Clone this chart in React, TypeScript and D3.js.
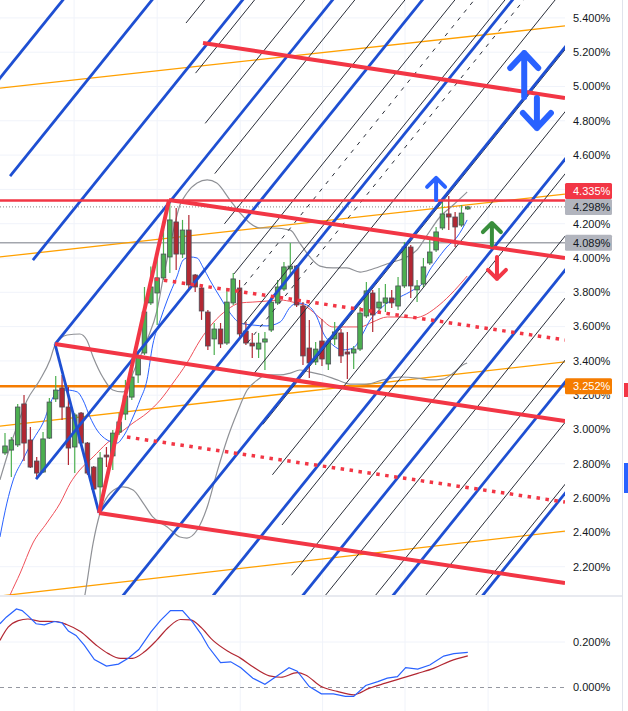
import * as d3 from "d3";

// candles (bar index 0..73), values in %
const opens = [2.863,2.880,2.910,3.149,2.939,2.816,2.752,2.950,3.178,3.242,3.131,2.898,3.096,2.921,2.781,2.665,2.851,2.846,2.985,3.090,3.189,3.318,3.446,3.738,3.796,3.884,4.006,4.210,4.023,4.163,3.901,3.825,3.685,3.528,3.586,3.504,3.738,3.825,3.574,3.504,3.469,3.510,3.580,3.738,3.819,3.936,3.953,3.720,3.475,3.394,3.516,3.382,3.528,3.563,3.452,3.446,3.469,3.662,3.796,3.709,3.738,3.767,3.720,3.837,4.064,3.814,3.848,3.971,4.047,4.175,4.257,4.239,4.192,4.286];
const closes = [2.904,2.939,3.131,2.921,2.781,2.746,2.945,3.160,3.230,3.131,2.892,3.085,2.921,2.746,2.653,2.834,2.840,2.979,3.044,3.195,3.306,3.423,3.685,3.831,3.884,4.023,4.222,4.023,4.163,3.843,3.831,3.691,3.487,3.586,3.499,3.743,3.878,3.557,3.504,3.487,3.504,3.528,3.743,3.831,3.948,3.953,3.726,3.429,3.388,3.469,3.411,3.516,3.569,3.429,3.440,3.469,3.679,3.808,3.668,3.743,3.767,3.738,3.837,4.064,3.837,3.837,3.948,4.035,4.152,4.257,4.239,4.181,4.262,4.298];
const highs = [2.979,2.956,3.149,3.201,3.015,2.840,2.985,3.184,3.312,3.318,3.248,3.096,3.102,2.927,2.787,2.869,2.898,2.997,3.096,3.289,3.347,3.458,3.831,3.950,4.017,4.163,4.338,4.292,4.222,4.251,3.907,3.831,3.697,3.621,3.621,3.825,3.913,3.872,3.627,3.563,3.563,3.569,3.773,3.872,3.977,4.087,3.959,3.743,3.639,3.510,3.644,3.534,3.627,3.586,3.569,3.487,3.714,3.860,3.814,3.825,3.848,3.814,3.889,4.093,4.076,3.872,4.000,4.105,4.181,4.338,4.362,4.268,4.309,4.303];
const lows = [2.851,2.723,2.898,2.816,2.775,2.711,2.746,2.945,3.160,3.055,2.793,2.746,2.904,2.735,2.647,2.560,2.781,2.764,2.968,3.055,3.172,3.271,3.434,3.726,3.609,3.872,3.913,3.930,4.000,3.814,3.802,3.639,3.464,3.434,3.475,3.493,3.726,3.539,3.493,3.417,3.417,3.347,3.569,3.726,3.808,3.889,3.714,3.376,3.300,3.376,3.370,3.347,3.493,3.388,3.295,3.353,3.458,3.650,3.569,3.685,3.685,3.709,3.697,3.825,3.767,3.743,3.831,3.959,4.035,4.163,4.163,4.064,4.181,4.280];

// indicators, [bar, value]
const bbUpper = [[-0.8,2.706],[1.3,2.956],[3.5,3.172],[5.5,3.289],[7.1,3.405],[7.9,3.493],[9.8,3.551],[11.8,3.557],[12.9,3.522],[13.9,3.423],[15.5,3.300],[17.0,3.230],[18.5,3.219],[19.4,3.248],[20.2,3.329],[21.3,3.423],[22.4,3.522],[24.0,3.697],[24.9,3.872],[26.0,4.064],[27.6,4.309],[28.7,4.379],[30.3,4.437],[31.9,4.455],[33.4,4.437],[35.5,4.338],[37.1,4.262],[38.6,4.204],[40.2,4.175],[42.3,4.175],[45.0,4.163],[46.5,4.087],[48.1,4.006],[49.7,3.953],[51.7,3.942],[53.9,3.942],[56.0,3.918],[58.0,3.936],[60.7,3.971],[63.4,4.006],[65.0,4.047],[66.6,4.134],[68.6,4.239],[70.7,4.309],[72.9,4.385]];
const bbLower = [[11.5,1.860],[12.6,2.035],[13.9,2.338],[15.0,2.513],[16.6,2.630],[18.6,2.665],[20.2,2.647],[21.8,2.571],[23.3,2.490],[25.6,2.432],[27.6,2.373],[28.7,2.367],[30.3,2.414],[31.9,2.548],[33.4,2.746],[35.0,2.939],[36.6,3.096],[38.2,3.230],[39.8,3.289],[41.3,3.318],[43.4,3.318],[45.0,3.329],[46.5,3.347],[48.1,3.335],[50.2,3.318],[52.4,3.289],[54.4,3.265],[57.1,3.265],[59.6,3.289],[62.3,3.306],[65.0,3.300],[67.0,3.289],[69.1,3.294],[70.7,3.329],[72.2,3.376],[72.9,3.388]];
const fastMa = [[-0.8,2.373],[0.3,2.571],[1.3,2.706],[2.8,2.822],[4.4,2.939],[6.0,3.038],[7.6,3.189],[8.7,3.230],[9.8,3.230],[11.4,3.219],[12.3,3.172],[13.4,3.073],[14.5,2.997],[16.1,2.939],[17.7,2.921],[18.6,2.956],[20.2,3.073],[21.3,3.172],[22.4,3.289],[23.3,3.493],[24.5,3.639],[25.6,3.755],[27.1,3.889],[28.1,3.988],[29.2,4.006],[30.3,4.000],[31.2,3.948],[32.3,3.872],[33.9,3.773],[35.5,3.679],[37.1,3.621],[39.1,3.609],[41.3,3.604],[43.4,3.627],[45.0,3.714],[46.1,3.738],[47.6,3.726],[49.2,3.656],[50.2,3.563],[51.7,3.493],[53.3,3.464],[54.9,3.475],[56.5,3.563],[57.6,3.639],[58.7,3.685],[60.3,3.738],[62.3,3.773],[64.4,3.814],[65.9,3.854],[67.0,3.930],[68.1,3.988],[69.7,4.064],[71.3,4.122],[72.9,4.222]];
const slowMa = [[-0.3,1.936],[0.8,2.035],[2.4,2.163],[4.4,2.338],[6.6,2.455],[8.7,2.571],[10.3,2.688],[11.8,2.764],[13.9,2.840],[16.1,2.921],[18.1,2.979],[20.2,3.038],[22.4,3.096],[24.5,3.172],[26.5,3.271],[28.7,3.388],[30.8,3.522],[32.8,3.621],[35.0,3.697],[37.1,3.738],[39.1,3.743],[41.3,3.749],[43.4,3.755],[45.4,3.743],[47.6,3.714],[49.7,3.650],[51.7,3.598],[53.9,3.598],[56.0,3.598],[58.0,3.627],[60.3,3.656],[62.3,3.656],[64.4,3.650],[65.9,3.662],[68.1,3.714],[70.2,3.784],[72.9,3.895]];
const macd = [[-0.8,0.280],[0.2,0.309],[1.8,0.345],[2.7,0.338],[3.6,0.316],[4.9,0.280],[6.2,0.275],[7.8,0.290],[9.0,0.284],[10.0,0.248],[11.2,0.229],[12.5,0.186],[14.1,0.123],[16.0,0.094],[17.9,0.103],[19.5,0.130],[21.1,0.167],[23.0,0.243],[24.5,0.294],[26.1,0.338],[28.0,0.338],[29.6,0.287],[30.9,0.236],[32.1,0.178],[34.0,0.109],[35.6,0.113],[37.2,0.087],[39.1,0.041],[41.0,0.014],[42.9,0.051],[44.8,0.087],[46.1,0.072],[48.0,0.004],[49.9,-0.028],[51.8,-0.028],[53.7,-0.039],[55.0,-0.039],[56.9,0.009],[58.8,0.026],[60.3,0.041],[61.9,0.048],[63.2,0.087],[65.1,0.081],[67.0,0.099],[69.2,0.138],[70.8,0.149],[73.0,0.154]];
const signal = [[-0.8,0.207],[0.5,0.265],[2.1,0.294],[3.6,0.301],[5.5,0.291],[8.1,0.290],[9.7,0.277],[11.9,0.246],[14.4,0.186],[16.3,0.149],[18.2,0.128],[20.1,0.128],[22.0,0.157],[23.9,0.207],[25.8,0.265],[27.7,0.299],[29.3,0.297],[30.9,0.265],[32.8,0.207],[35.3,0.157],[37.2,0.128],[39.1,0.091],[41.7,0.051],[43.5,0.045],[46.1,0.065],[47.4,0.055],[49.9,0.004],[52.4,-0.017],[55.0,-0.032],[57.5,-0.003],[60.0,0.019],[62.6,0.041],[65.1,0.062],[67.6,0.084],[70.2,0.116],[73.0,0.139]];

// drawings
const steepSlope = 0.04585; // % per bar
const blueChannelStarts = [[-3,4.948],[0.8,4.478],[4.4,3.988],[7.9,3.498],[4.9,2.711],[14.8,2.513],[10,1.637],[20,1.443],[30,1.254],[40,1.060],[50,0.870]];
const blackChannelStarts = [[28.55,5.370],[30.06,5.078],[31.58,4.785],[33.09,4.492],[34.61,4.199],[36.12,3.907],[37.63,3.614],[39.15,3.321],[40.66,3.029],[42.18,2.736],[43.69,2.443],[45.21,2.150],[46.72,1.858],[48.23,1.565],[49.75,1.272],[51.26,0.980]];
const dashedStarts = [[36.75,3.796],[38.26,3.506]];
const redForkLines = [[31.23,5.254,88.33,4.933],[25.87,4.338,88.33,4.000],[7.89,3.498,88.33,3.049],[14.83,2.513,88.33,2.105]];
const redDotted = [[19.24,2.956,88.33,2.577],[23.66,3.878,88.33,3.522]];
const redHandle = [14.83,2.513,25.87,4.338];
const blueHandle = [7.89,3.498,14.83,2.513];
const orangeLines = [[-0.8,4.991,88.33,5.353],[-0.8,4.006,88.33,4.373],[-0.8,3.020,88.33,3.394],[-0.8,2.029,88.33,2.408]];
const gridBars = [10.9, 24.0, 37.1, 50.1, 63.1, 76.2];
const gridTicks = [5.4,5.2,5.0,4.8,4.6,4.4,4.2,4.0,3.8,3.6,3.4,3.2,3.0,2.8,2.6,2.4,2.2];
const priceLabels = [5.4,5.2,5.0,4.8,4.6,4.2,4.0,3.8,3.6,3.4,3.2,3.0,2.8,2.6,2.4,2.2];
const macdTicks = [0.2, 0];
// arrows: bar, tip, tail
const bigArrows = [[81.9,5.195,4.939],[83.9,4.758,4.933]];
const smallArrows = [[68.0,4.467,4.338,"#2962ff"],[76.8,4.204,4.076,"#388e3c"],[77.6,3.878,4.006,"#f23645"]];
const badges = [
  { v: 4.335, bg: "#f23645", fg: "#ffffff" },
  { v: 4.298, bg: "#b2b5be", fg: "#131722" },
  { v: 4.089, bg: "#b2b5be", fg: "#131722" },
  { v: 3.252, bg: "#f57c00", fg: "#ffffff" },
];

const W = 628, H = 711;
const plotRight = 565, priceBottom = 595, macdTop = 597;
const font = "'Liberation Sans', Arial, sans-serif";

export default function App() {
  const x = d3.scaleLinear().domain([0, 73]).range([5, 467.8]);
  const y = d3.scaleLinear().domain([2.2, 5.4]).range([566.7, 17.9]);
  const ym = d3.scaleLinear().domain([0, 0.2]).range([687.5, 642]);
  const fmt = d3.format(".3f");

  const smooth = d3.line<number[]>().x(d => x(d[0])).y(d => y(d[1])).curve(d3.curveMonotoneX);
  const macdLine = d3.line<number[]>().x(d => x(d[0])).y(d => ym(d[1]));
  const sigLine = d3.line<number[]>().x(d => x(d[0])).y(d => ym(d[1])).curve(d3.curveMonotoneX);
  const seg = (b0: number, p0: number, b1: number, p1: number) =>
    `M${x(b0)},${y(p0)}L${x(b1)},${y(p1)}`;
  const steep = (s: number[]) => seg(s[0], s[1], s[0] + 80, s[1] + 80 * steepSlope);

  // stack badges so they don't overlap
  const bh = 16;
  const placed = badges.map(b => ({ ...b, cy: y(b.v) })).sort((a, b) => b.cy - a.cy);
  for (let i = 1; i < placed.length; i++) {
    if (placed[i - 1].cy - placed[i].cy < bh) placed[i].cy = placed[i - 1].cy - bh;
  }

  const arrow = (bx: number, tip: number, tail: number, color: string, sw: number, hw: number, hh: number, k: string) => {
    const cx = x(bx), ty = y(tip), ly = y(tail);
    const dir = ly > ty ? 1 : -1;
    return (
      <path key={k} d={`M${cx},${ly}L${cx},${ty}M${cx - hw},${ty + dir * hh}L${cx},${ty}L${cx + hw},${ty + dir * hh}`}
        fill="none" stroke={color} strokeWidth={sw} strokeLinecap="round" strokeLinejoin="round" />
    );
  };

  return (
    <svg width={W} height={H} style={{ position: "absolute", left: 0, top: 0, background: "#fff" }}>
      <defs>
        <clipPath id="pricePane"><rect x={0} y={0} width={plotRight} height={priceBottom} /></clipPath>
        <clipPath id="macdPane"><rect x={0} y={macdTop} width={plotRight} height={H - macdTop} /></clipPath>
        <clipPath id="belowBadge"><rect x={565} y={y(3.252) + 8} width={60} height={30} /></clipPath>
      </defs>
      <rect x={0} y={0} width={W} height={H} fill="#fff" />

      {/* grid */}
      <g stroke="#f0f3fa" strokeWidth={1}>
        {gridTicks.map(t => <line key={"gh" + t} x1={0} x2={plotRight} y1={y(t)} y2={y(t)} />)}
        {gridBars.map(b => <line key={"gv" + b} x1={x(b)} x2={x(b)} y1={0} y2={priceBottom} />)}
        {gridBars.map(b => <line key={"gm" + b} x1={x(b)} x2={x(b)} y1={macdTop} y2={H} />)}
        <line x1={0} x2={plotRight} y1={ym(0.2)} y2={ym(0.2)} />
      </g>

      <g clipPath="url(#pricePane)">
        {/* horizontal levels */}
        <line x1={0} x2={plotRight} y1={y(4.089)} y2={y(4.089)} stroke="#a3a6ad" strokeWidth={1.3} />
        <line x1={0} x2={plotRight} y1={y(4.298)} y2={y(4.298)} stroke="#888" strokeWidth={1} strokeDasharray="1 2" />
        <line x1={0} x2={plotRight} y1={y(3.252)} y2={y(3.252)} stroke="#f57c00" strokeWidth={2.5} />
        {orangeLines.map((l, i) => <path key={"o" + i} d={seg(l[0], l[1], l[2], l[3])} stroke="#ffa000" strokeWidth={1.3} fill="none" />)}

        {/* indicators */}
        <path d={smooth(bbUpper) || ""} fill="none" stroke="#8f9196" strokeWidth={1.2} />
        <path d={smooth(bbLower) || ""} fill="none" stroke="#8f9196" strokeWidth={1.2} />
        <path d={smooth(slowMa) || ""} fill="none" stroke="#f0505a" strokeWidth={1} />
        <path d={smooth(fastMa) || ""} fill="none" stroke="#2962ff" strokeWidth={1} />

        {/* candles */}
        {opens.map((o, i) => {
          const c = closes[i];
          const up = c >= o;
          const col = up ? "#4caf50" : "#b22833";
          const top = y(Math.max(o, c)), bot = y(Math.min(o, c));
          return (
            <g key={"c" + i}>
              <line x1={x(i)} x2={x(i)} y1={y(highs[i])} y2={y(lows[i])} stroke={col} strokeWidth={1.2} />
              <rect x={x(i) - 2.3} y={top} width={4.6} height={Math.max(1, bot - top)} fill={col} stroke="#4a4e57" strokeWidth={0.8} />
            </g>
          );
        })}

        {/* channels */}
        {blackChannelStarts.map((s, i) => <path key={"k" + i} d={steep(s)} stroke="#2a2e39" strokeWidth={1} fill="none" />)}
        {dashedStarts.map((s, i) => <path key={"d" + i} d={steep(s)} stroke="#2a2e39" strokeWidth={1} strokeDasharray="4 6" fill="none" />)}
        {blueChannelStarts.map((s, i) => <path key={"b" + i} d={steep(s)} stroke="#1e4fd2" strokeWidth={2.8} fill="none" />)}
        <path d={seg(blueHandle[0], blueHandle[1], blueHandle[2], blueHandle[3])} stroke="#1e4fd2" strokeWidth={2.8} fill="none" />
        <path d={seg(redHandle[0], redHandle[1], redHandle[2], redHandle[3])} stroke="#f23645" strokeWidth={4} fill="none" />
        {redForkLines.map((l, i) => <path key={"r" + i} d={seg(l[0], l[1], l[2], l[3])} stroke="#f23645" strokeWidth={4} fill="none" />)}
        {redDotted.map((l, i) => <path key={"rd" + i} d={seg(l[0], l[1], l[2], l[3])} stroke="#f23645" strokeWidth={3.5} strokeDasharray="3.5 5.5" fill="none" />)}
        <line x1={0} x2={plotRight} y1={y(4.335)} y2={y(4.335)} stroke="#f23645" strokeWidth={2.5} />

        {/* arrows */}
        {bigArrows.map((a, i) => arrow(a[0], a[1], a[2], "#2962ff", 6, 14, 15, "ba" + i))}
        {smallArrows.map((a, i) => arrow(a[0] as number, a[1] as number, a[2] as number, a[3] as string, 4, 9, 9, "sa" + i))}
      </g>

      {/* pane separators */}
      <line x1={0} x2={622} y1={596} y2={596} stroke="#e0e3eb" strokeWidth={1.5} />
      <line x1={622.5} x2={622.5} y1={0} y2={H} stroke="#e0e3eb" strokeWidth={1} />
      <rect x={624} y={383} width={4} height={14} fill="#f23645" />
      <rect x={624} y={463} width={4} height={30} fill="#2962ff" />

      {/* price axis */}
      <g fontFamily={font} fontSize={11} fill="#131722">
        {priceLabels.map(t => (
          <text key={"t" + t} x={573} y={y(t)} dy="0.35em" clipPath={t === 3.2 ? "url(#belowBadge)" : undefined}>{fmt(t)}%</text>
        ))}
      </g>
      {placed.map(b => (
        <g key={"bd" + b.v}>
          <rect x={565} y={b.cy - bh / 2} width={47} height={bh} fill={b.bg} rx={1.5} />
          <text x={573} y={b.cy} dy="0.35em" fontFamily={font} fontSize={11} fill={b.fg}>{fmt(b.v)}%</text>
        </g>
      ))}

      {/* MACD pane */}
      <line x1={0} x2={plotRight} y1={ym(0)} y2={ym(0)} stroke="#9598a1" strokeWidth={1} strokeDasharray="4 4" />
      <g clipPath="url(#macdPane)">
        <path d={sigLine(signal) || ""} fill="none" stroke="#b22833" strokeWidth={1.2} />
        <path d={macdLine(macd) || ""} fill="none" stroke="#2962ff" strokeWidth={1.2} />
      </g>
      <g fontFamily={font} fontSize={11} fill="#131722">
        {macdTicks.map(t => <text key={"m" + t} x={573} y={ym(t)} dy="0.35em">{fmt(t)}%</text>)}
      </g>
    </svg>
  );
}
